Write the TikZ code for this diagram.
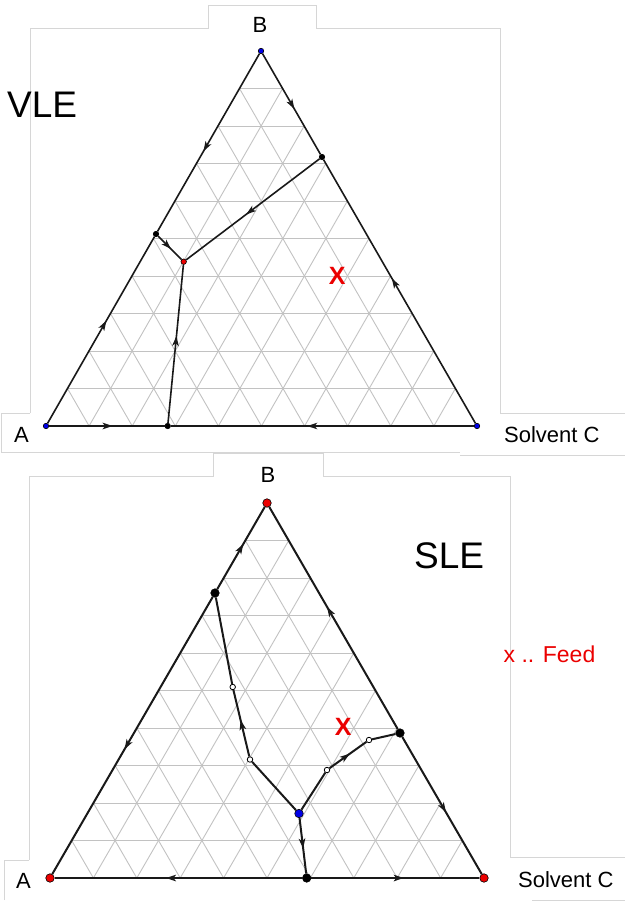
\documentclass[tikz,border=0pt]{standalone}
\usepackage{fontspec}
\setmainfont{Liberation Sans}
\usetikzlibrary{calc,arrows.meta,decorations.markings}
\definecolor{blu}{RGB}{0,0,230}
\definecolor{rosso}{RGB}{235,0,0}
\tikzset{
  griglia/.style={draw=black!24, line width=0.9pt},
  cornice/.style={draw=black!16, line width=0.8pt},
  lato/.style={draw=black!90, line width=1.6pt},
  lato2/.style={draw=black!90, line width=2pt},
  freccia/.style={postaction={decorate},
    decoration={markings,
      mark=at position 0.55 with {\arrow{Stealth[length=10pt,width=6.5pt,inset=2.5pt]}}}},
  punto/.style={circle, inner sep=0pt, minimum size=5.5pt,
    draw=black, line width=0.6pt, fill=black},
  pblu/.style={punto, fill=blu},
  prosso/.style={punto, fill=rosso},
  punto2/.style={punto, minimum size=8.5pt},
  pblu2/.style={punto2, fill=blu},
  prosso2/.style={punto2, fill=rosso},
  pvuoto/.style={punto, minimum size=5.5pt, fill=white, line width=0.8pt},
  etich/.style={inner sep=0pt, anchor=base west, font=\fontsize{22}{22}\selectfont},
  titolo/.style={etich, font=\fontsize{37}{37}\selectfont},
  feed/.style={inner sep=0pt, text=rosso, font=\fontsize{25}{25}\selectfont\bfseries}
}

\begin{document}
\begin{tikzpicture}[x=1pt,y=-1pt]
  \path[use as bounding box] (0,0) rectangle (625,904);

  % --- cornici chiare delle due schermate ---------------------------------
  \draw[cornice] (30,413) -- (30,28) -- (208,28) -- (208,5) -- (316,5)
    -- (316,28) -- (500,28) -- (500,413) -- (625,413);
  \draw[cornice] (1,452) -- (1,413) -- (30,413);
  \draw[cornice] (1,452) -- (460,452);
  \draw[cornice] (460,455) -- (625,455);
  \draw[cornice] (29,860) -- (29,476) -- (213,476) -- (213,453) -- (323,453)
    -- (323,476) -- (510,476) -- (510,857) -- (625,857);
  \draw[cornice] (4,900) -- (4,860) -- (29,860);
  \draw[cornice] (532,900) -- (625,900);

  % --- vertici dei due triangoli -------------------------------------------
  \coordinate (tA) at (46,426);  \coordinate (tB) at (261,51);  \coordinate (tC) at (477,426);
  \coordinate (bA) at (50,878);  \coordinate (bB) at (267,503); \coordinate (bC) at (484,878);

  % griglia 10 x 10 in ciascun triangolo
  \foreach \tri in {t,b} {
    \foreach \i in {1,...,9} {
      \draw[griglia] ($(\tri A)!\i/10!(\tri C)$) -- ($(\tri B)!\i/10!(\tri C)$);
      \draw[griglia] ($(\tri B)!\i/10!(\tri A)$) -- ($(\tri C)!\i/10!(\tri A)$);
      \draw[griglia] ($(\tri A)!\i/10!(\tri B)$) -- ($(\tri C)!\i/10!(\tri B)$);
    }
  }

  % --- VLE: punti e linee di distillazione ---------------------------------
  \node[pblu]   (A1) at (tA) {};
  \node[pblu]   (B1) at (tB) {};
  \node[pblu]   (C1) at (tC) {};
  \node[punto]  (P1) at (156,234) {};
  \node[punto]  (Q1) at (322,157) {};
  \node[punto]  (R1) at (167.7,426) {};
  \node[prosso] (S1) at (183.7,261.7) {};

  \draw[lato,freccia] (A1) -- (P1);
  \draw[lato,freccia] (B1) -- (P1);
  \draw[lato,freccia] (B1) -- (Q1);
  \draw[lato,freccia] (C1) -- (Q1);
  \draw[lato,freccia] (A1) -- (R1);
  \draw[lato,freccia] (C1) -- (R1);
  \draw[lato,freccia] (Q1) -- (S1);
  \draw[lato,freccia] (P1) -- (S1);
  \draw[lato,freccia] (R1) -- (S1);

  \node[etich]  (lB1) at (252.5,33) {B};
  \node[etich]  (lA1) at (14,442) {A};
  \node[etich]  (lC1) at (504,442) {Solvent C};
  \node[titolo] (vle) at (7,118) {VLE};
  \node[feed]   (x1)  at (337.3,275.7) {X};

  % --- SLE: punti e linee di cristallizzazione -----------------------------
  \node[prosso2] (A2) at (bA) {};
  \node[prosso2] (B2) at (bB) {};
  \node[prosso2] (C2) at (bC) {};
  \node[punto2]  (P2) at (215,593) {};
  \node[punto2]  (Q2) at (400,733) {};
  \node[punto2]  (R2) at (306.7,878) {};
  \node[pblu2]   (S2) at (299,813.5) {};
  \node[pvuoto]  (o1) at (232.7,687) {};
  \node[pvuoto]  (o2) at (250,759.5) {};
  \node[pvuoto]  (o3) at (327,770) {};
  \node[pvuoto]  (o4) at (369,740) {};

  \draw[lato2,freccia] (P2) -- (B2);
  \draw[lato2,freccia] (P2) -- (A2);
  \draw[lato2,freccia] (Q2) -- (B2);
  \draw[lato2,freccia] (Q2) -- (C2);
  \draw[lato2,freccia] (R2) -- (A2);
  \draw[lato2,freccia] (R2) -- (C2);
  \draw[lato2] (S2) -- (o2);
  \draw[lato2,freccia] (o2) -- (o1);
  \draw[lato2] (o1) -- (P2);
  \draw[lato2] (S2) -- (o3);
  \draw[lato2,freccia] (o3) -- (o4);
  \draw[lato2] (o4) -- (Q2);
  \draw[lato2,freccia] (S2) -- (R2);

  \node[etich]  (lB2) at (260.5,482) {B};
  \node[etich]  (lA2) at (16,888) {A};
  \node[etich]  (lC2) at (518,887) {Solvent C};
  \node[titolo] (sle) at (414,568) {SLE};
  \node[feed]   (x2)  at (343.3,726.7) {X};
  \node[feed, anchor=base west, font=\fontsize{23}{23}\selectfont]
    (leg) at (503.5,662) {x .. Feed};

\end{tikzpicture}
\end{document}
